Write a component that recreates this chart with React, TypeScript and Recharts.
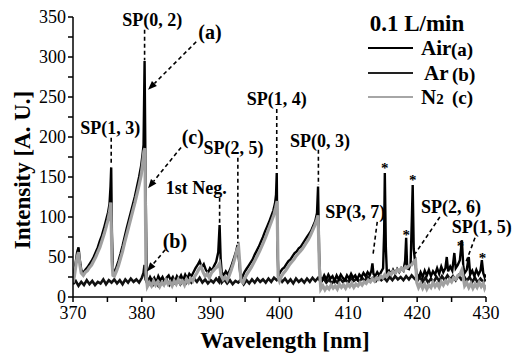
import React from 'react';
import { LineChart, Line, XAxis, YAxis, ReferenceLine, ReferenceDot } from 'recharts';

// spectra: [wavelength nm, intensity A.U.]
const airSpectrum: [number, number][] = [
  [370.0,24],[370.2,32],[370.4,44],[370.6,56],[370.8,62],[371.0,46],[371.2,34],[371.5,30],[371.8,34],[372.1,37],
  [372.4,41],[372.7,45],[373.0,50],[373.3,56],[373.6,62],[373.9,70],[374.2,77],[374.5,86],[374.8,96],[375.1,106],
  [375.3,116],[375.45,138],[375.55,162],[375.65,82],[375.8,34],[376.0,31],[376.3,37],[376.6,45],[376.9,54],[377.2,64],
  [377.5,75],[377.8,86],[378.1,96],[378.4,106],[378.7,116],[379.0,126],[379.3,138],[379.6,150],[379.9,164],[380.1,178],
  [380.25,190],[380.4,295],[380.55,140],[380.7,26],[380.9,19],[381.2,25],[381.5,20],[381.8,24],[382.1,18],[382.4,26],
  [382.7,21],[383.0,25],[383.3,19],[383.6,24],[383.9,27],[384.2,21],[384.5,25],[384.8,19],[385.1,26],[385.4,22],
  [385.7,27],[386.0,21],[386.3,28],[386.6,23],[386.9,29],[387.2,26],[387.5,31],[387.8,36],[388.1,40],[388.4,45],
  [388.7,37],[389.0,41],[389.3,34],[389.6,30],[389.9,36],[390.2,33],[390.5,39],[390.8,44],[391.1,56],[391.3,90],
  [391.45,48],[391.6,31],[391.9,27],[392.2,32],[392.5,28],[392.8,34],[393.1,41],[393.4,49],[393.7,57],[393.9,65],
  [394.1,47],[394.3,29],[394.6,25],[394.9,31],[395.2,35],[395.5,39],[395.8,43],[396.1,47],[396.4,53],[396.7,58],
  [397.0,63],[397.3,69],[397.6,75],[397.9,82],[398.2,88],[398.5,94],[398.8,101],[399.1,108],[399.35,117],[399.5,128],
  [399.6,155],[399.7,58],[399.85,27],[400.1,31],[400.4,35],[400.7,37],[401.0,41],[401.3,45],[401.6,47],[401.9,51],
  [402.2,55],[402.5,57],[402.8,61],[403.1,63],[403.4,67],[403.7,71],[404.0,75],[404.3,79],[404.6,83],[404.9,89],
  [405.2,95],[405.45,105],[405.6,138],[405.75,58],[405.9,25],[406.2,21],[406.5,27],[406.8,22],[407.1,28],[407.4,23],
  [407.7,26],[408.0,20],[408.3,27],[408.6,22],[408.9,28],[409.2,24],[409.5,21],[409.8,27],[410.1,23],[410.4,29],
  [410.7,24],[411.0,27],[411.3,22],[411.6,28],[411.9,25],[412.2,30],[412.5,26],[412.8,31],[413.1,27],[413.35,33],
  [413.5,42],[413.65,29],[413.9,26],[414.2,31],[414.5,27],[414.8,32],[415.05,36],[415.2,80],[415.3,155],[415.45,62],
  [415.6,30],[415.9,33],[416.2,28],[416.5,34],[416.8,29],[417.1,35],[417.4,31],[417.7,36],[418.0,33],[418.25,45],
  [418.4,74],[418.55,36],[418.8,35],[419.05,42],[419.25,105],[419.35,140],[419.5,60],[419.7,44],[419.9,30],[420.2,24],
  [420.5,31],[420.8,25],[421.1,33],[421.4,27],[421.7,34],[422.0,26],[422.3,32],[422.6,28],[422.9,36],[423.2,29],
  [423.5,38],[423.8,31],[424.1,36],[424.3,50],[424.5,32],[424.8,38],[425.1,33],[425.4,55],[425.6,36],[425.9,40],
  [426.2,46],[426.5,71],[426.7,38],[426.9,30],[427.2,34],[427.5,50],[427.7,28],[428.0,33],[428.3,26],[428.6,34],
  [428.9,28],[429.2,33],[429.4,46],[429.6,30],[429.8,25],[430.0,28],
];

const arSpectrum: [number, number][] = [
  [370.0,16],[370.4,20],[370.8,14],[371.2,19],[371.6,15],[372.0,21],[372.4,16],[372.8,20],[373.2,15],[373.6,19],
  [374.0,17],[374.4,22],[374.8,16],[375.2,21],[375.6,18],[376.0,22],[376.4,17],[376.8,21],[377.2,16],[377.6,22],
  [378.0,18],[378.4,23],[378.8,19],[379.2,22],[379.6,18],[380.0,24],[380.25,30],[380.4,40],[380.55,22],[380.8,17],
  [381.2,21],[381.6,15],[382.0,20],[382.4,14],[382.8,19],[383.2,16],[383.6,21],[384.0,15],[384.4,20],[384.8,17],
  [385.2,22],[385.6,16],[386.0,21],[386.4,17],[386.8,22],[387.2,18],[387.6,23],[388.0,19],[388.4,24],[388.8,18],
  [389.2,22],[389.6,17],[390.0,21],[390.4,18],[390.8,23],[391.2,19],[391.3,26],[391.6,18],[392.0,22],[392.4,17],
  [392.8,21],[393.2,16],[393.6,20],[394.0,18],[394.4,22],[394.8,16],[395.2,21],[395.6,17],[396.0,22],[396.4,18],
  [396.8,23],[397.2,19],[397.6,22],[398.0,18],[398.4,23],[398.8,19],[399.2,24],[399.6,21],[400.0,25],[400.4,19],
  [400.8,23],[401.2,18],[401.6,22],[402.0,17],[402.4,23],[402.8,19],[403.2,22],[403.6,18],[404.0,23],[404.4,19],
  [404.8,24],[405.2,20],[405.6,24],[406.0,19],[406.4,23],[406.8,18],[407.2,22],[407.6,17],[408.0,21],[408.4,18],
  [408.8,23],[409.2,19],[409.6,22],[410.0,18],[410.4,24],[410.8,20],[411.2,23],[411.6,19],[412.0,24],[412.4,20],
  [412.8,25],[413.2,21],[413.6,24],[414.0,20],[414.4,25],[414.8,21],[415.2,24],[415.6,20],[416.0,25],[416.4,21],
  [416.8,26],[417.2,22],[417.6,25],[418.0,21],[418.4,26],[418.8,22],[419.2,27],[419.6,23],[420.0,20],[420.4,25],
  [420.8,19],[421.2,24],[421.6,18],[422.0,23],[422.4,19],[422.8,25],[423.2,20],[423.6,26],[424.0,21],[424.4,27],
  [424.8,22],[425.2,26],[425.6,21],[426.0,27],[426.4,22],[426.8,26],[427.2,20],[427.6,25],[428.0,19],[428.4,24],
  [428.8,18],[429.2,23],[429.6,19],[430.0,22],
];

const n2Spectrum: [number, number][] = [
  [370.0,18],[370.2,26],[370.4,38],[370.6,50],[370.8,56],[371.0,40],[371.2,30],[371.5,27],[371.8,31],[372.1,33],
  [372.4,37],[372.7,40],[373.0,45],[373.3,50],[373.6,56],[373.9,62],[374.2,70],[374.5,78],[374.8,87],[375.1,97],
  [375.3,106],[375.5,118],[375.65,46],[375.8,27],[376.0,26],[376.3,32],[376.6,39],[376.9,48],[377.2,57],[377.5,68],
  [377.8,78],[378.1,88],[378.4,98],[378.7,108],[379.0,118],[379.3,129],[379.6,140],[379.9,152],[380.1,166],[380.3,182],
  [380.45,186],[380.6,30],[380.8,13],[381.1,18],[381.4,14],[381.7,20],[382.0,15],[382.3,19],[382.6,13],[382.9,18],
  [383.2,15],[383.5,21],[383.8,16],[384.1,19],[384.4,14],[384.7,20],[385.0,16],[385.3,22],[385.6,17],[385.9,20],
  [386.2,15],[386.5,22],[386.8,18],[387.1,23],[387.4,20],[387.7,26],[388.0,30],[388.3,35],[388.6,38],[388.9,31],
  [389.2,26],[389.5,29],[389.8,24],[390.1,30],[390.4,33],[390.7,36],[391.0,38],[391.3,42],[391.5,27],[391.8,22],
  [392.1,25],[392.4,21],[392.7,27],[393.0,34],[393.3,42],[393.6,51],[393.85,60],[394.05,63],[394.25,40],[394.4,20],
  [394.7,18],[395.0,24],[395.3,29],[395.6,33],[395.9,37],[396.2,42],[396.5,47],[396.8,52],[397.1,57],[397.4,63],
  [397.7,69],[398.0,75],[398.3,82],[398.6,89],[398.9,96],[399.2,103],[399.45,112],[399.65,120],[399.8,25],[400.0,20],
  [400.3,26],[400.6,30],[400.9,33],[401.2,37],[401.5,41],[401.8,44],[402.1,47],[402.4,51],[402.7,54],[403.0,57],
  [403.3,60],[403.6,64],[403.9,68],[404.2,72],[404.5,77],[404.8,83],[405.1,89],[405.4,96],[405.6,102],[405.8,36],
  [406.0,10],[406.3,14],[406.6,9],[406.9,13],[407.2,10],[407.5,15],[407.8,11],[408.1,14],[408.4,10],[408.7,16],
  [409.0,12],[409.3,15],[409.6,11],[409.9,16],[410.2,13],[410.5,17],[410.8,12],[411.1,16],[411.4,14],[411.7,18],
  [412.0,15],[412.3,19],[412.6,17],[412.9,21],[413.2,19],[413.5,23],[413.8,20],[414.1,24],[414.4,22],[414.7,26],
  [415.0,24],[415.3,28],[415.6,26],[415.9,30],[416.2,28],[416.5,32],[416.8,30],[417.1,34],[417.4,32],[417.7,36],
  [418.0,34],[418.3,38],[418.6,37],[418.9,40],[419.2,40],[419.5,44],[419.75,46],[419.95,18],[420.2,12],[420.5,17],
  [420.8,11],[421.1,16],[421.4,10],[421.7,15],[422.0,12],[422.3,18],[422.6,13],[422.9,17],[423.2,12],[423.5,19],
  [423.8,15],[424.1,20],[424.4,17],[424.7,22],[425.0,19],[425.3,24],[425.6,22],[425.9,27],[426.2,28],[426.5,34],
  [426.7,24],[426.9,14],[427.2,18],[427.5,12],[427.8,17],[428.1,11],[428.4,16],[428.7,12],[429.0,18],[429.3,13],
  [429.6,17],[429.8,11],[430.0,15],
];

const xTicks = [370, 375, 380, 385, 390, 395, 400, 405, 410, 415, 420, 425, 430];
const yTicks = [0, 25, 50, 75, 100, 125, 150, 175, 200, 225, 250, 275, 300, 325, 350];

// band labels: [text, x, y]
const bandLabels: [string, number, number][] = [
  ['SP(0, 2)', 381.5, 346],
  ['(a)', 389.9, 331],
  ['SP(1, 3)', 375.4, 211],
  ['(c)', 387.4, 200],
  ['SP(2, 5)', 393.3, 186],
  ['1st Neg.', 387.9, 136],
  ['(b)', 384.8, 70],
  ['SP(1, 4)', 399.6, 247],
  ['SP(0, 3)', 405.9, 195],
  ['SP(3, 7)', 411.0, 106],
  ['SP(2, 6)', 424.9, 112],
  ['SP(1, 5)', 429.4, 87],
];

// dashed leader lines: [x1, y1, x2, y2]
const leaders: [number, number, number, number][] = [
  [380.4, 334, 380.4, 296],
  [375.55, 199, 375.55, 164],
  [393.95, 174, 393.95, 67],
  [391.3, 124, 391.3, 89],
  [399.6, 235, 399.6, 157],
  [405.65, 184, 405.65, 140],
  [414.2, 94, 413.6, 54],
  [423.3, 100, 419.7, 54],
  [428.4, 74, 427.1, 44],
];

const arrows: [number, number, number, number][] = [
  [387.9, 319, 380.9, 259],
  [385.7, 187, 380.9, 136],
  [383.4, 59, 380.75, 32],
];

const stars: [number, number][] = [
  [415.3, 167], [419.35, 153], [418.4, 84], [426.3, 70], [429.5, 55],
];

const serif = '"Times New Roman", Times, "Liberation Serif", "DejaVu Serif", serif';

const toPoints = (s: [number, number][]) => s.map(([x, y]) => ({ x, y }));

const ArrowShape = (p: any) => {
  const { x1, y1, x2, y2 } = p;
  const a = Math.atan2(y2 - y1, x2 - x1);
  const L = 9, W = 3.5;
  const bx = x2 - L * Math.cos(a), by = y2 - L * Math.sin(a);
  const pts = `${x2},${y2} ${bx + W * Math.sin(a)},${by - W * Math.cos(a)} ${bx - W * Math.sin(a)},${by + W * Math.cos(a)}`;
  return (
    <g>
      <line x1={x1} y1={y1} x2={bx} y2={by} stroke="#000" strokeWidth={1.6} strokeDasharray="4 3" />
      <polygon points={pts} fill="#000" />
    </g>
  );
};

const boldText = { fontFamily: serif, fontWeight: 'bold' as const };

export default function App() {
  return (
    <div style={{ position: 'absolute', left: 0, top: 0, width: 513, height: 356, background: '#fff', fontFamily: serif }}>
      <LineChart width={513} height={356} margin={{ top: 17, right: 27, left: 0, bottom: 0 }} style={{ fontFamily: serif }}>
        <XAxis
          type="number"
          dataKey="x"
          domain={[370, 430]}
          ticks={xTicks}
          allowDataOverflow
          height={59}
          tickSize={5}
          tickMargin={4}
          stroke="#000"
          strokeWidth={1.5}
          tickFormatter={(v: number) => (v % 10 === 0 ? String(v) : '')}
          tick={{ fill: '#000', fontSize: 18, style: { fontFamily: serif } }}
        />
        <YAxis
          type="number"
          domain={[0, 350]}
          ticks={yTicks}
          width={73}
          tickSize={5}
          stroke="#000"
          strokeWidth={1.5}
          tickFormatter={(v: number) => (v % 50 === 0 ? String(v) : '')}
          tick={{ fill: '#000', fontSize: 18, style: { fontFamily: serif } }}
        />
        <Line data={toPoints(arSpectrum)} dataKey="y" stroke="#111" strokeWidth={2.6} dot={false} isAnimationActive={false} />
        <Line data={toPoints(airSpectrum)} dataKey="y" stroke="#000" strokeWidth={2.4} dot={false} isAnimationActive={false} />
        <Line data={toPoints(n2Spectrum)} dataKey="y" stroke="#a0a0a0" strokeWidth={3.2} dot={false} isAnimationActive={false} />
        {leaders.map(([x1, y1, x2, y2], i) => (
          <ReferenceLine key={`l${i}`} segment={[{ x: x1, y: y1 }, { x: x2, y: y2 }]} stroke="#000" strokeWidth={1.6} strokeDasharray="4 3" />
        ))}
        {arrows.map(([x1, y1, x2, y2], i) => (
          <ReferenceLine key={`a${i}`} segment={[{ x: x1, y: y1 }, { x: x2, y: y2 }]} shape={ArrowShape} />
        ))}
        {bandLabels.map(([t, x, y]) => (
          <ReferenceDot
            key={t}
            x={x}
            y={y}
            shape={(p: any) => (
              <text x={p.cx} y={p.cy} textAnchor="middle" dominantBaseline="central" style={boldText} fontSize={t.length <= 3 ? 20 : 18} fill="#000">
                {t}
              </text>
            )}
          />
        ))}
        {stars.map(([x, y], i) => (
          <ReferenceDot
            key={`s${i}`}
            x={x}
            y={y}
            shape={(p: any) => (
              <text x={p.cx} y={p.cy + 5} textAnchor="middle" dominantBaseline="central" style={boldText} fontSize={15} fill="#000">
                *
              </text>
            )}
          />
        ))}
      </LineChart>
      <svg width={513} height={356} style={{ position: 'absolute', left: 0, top: 0, pointerEvents: 'none' }}>
        <g style={boldText} fill="#000">
          <text x={22} y={170} transform="rotate(-90 22 170)" textAnchor="middle" dominantBaseline="central" fontSize={23}>
            Intensity [A. U.]
          </text>
          <text x={285} y={340} textAnchor="middle" dominantBaseline="central" fontSize={23}>
            Wavelength [nm]
          </text>
          <text x={417} y={23} textAnchor="middle" dominantBaseline="central" fontSize={23}>0.1 L/min</text>
          <line x1={368} y1={48} x2={413} y2={48} stroke="#000" strokeWidth={2} />
          <text x={421} y={48} dominantBaseline="central" fontSize={21}>Air</text>
          <text x={451} y={49} dominantBaseline="central" fontSize={19}>(a)</text>
          <line x1={368} y1={73} x2={413} y2={73} stroke="#222" strokeWidth={2} />
          <text x={424} y={73} dominantBaseline="central" fontSize={21}>Ar</text>
          <text x={452} y={74} dominantBaseline="central" fontSize={19}>(b)</text>
          <line x1={368} y1={97} x2={413} y2={97} stroke="#888" strokeWidth={1.6} />
          <text x={421} y={97} dominantBaseline="central" fontSize={21}>
            N<tspan fontSize={15} dy={2}>2</tspan>
          </text>
          <text x={452} y={97} dominantBaseline="central" fontSize={19}>(c)</text>
        </g>
      </svg>
    </div>
  );
}
